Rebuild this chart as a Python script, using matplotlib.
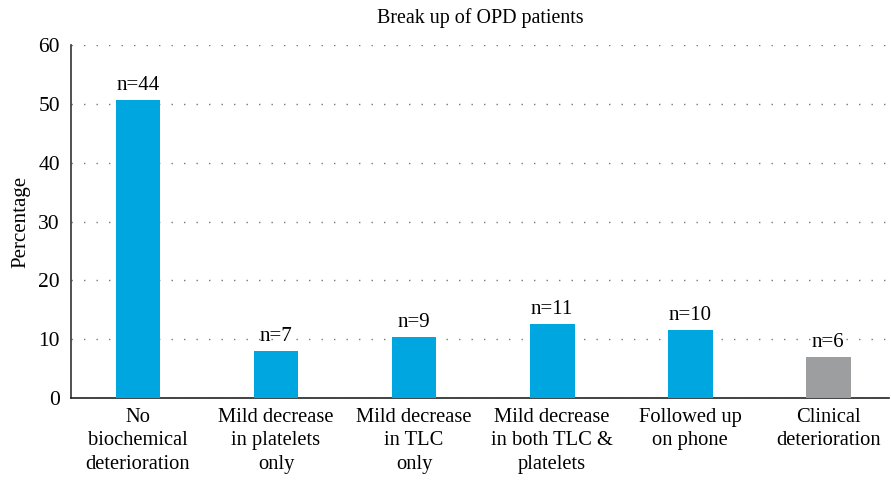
import matplotlib
matplotlib.use("Agg")
import matplotlib.pyplot as plt

categories = ["No\nbiochemical\ndeterioration", "Mild decrease\nin platelets\nonly",
              "Mild decrease\nin TLC\nonly", "Mild decrease\nin both TLC &\nplatelets",
              "Followed up\non phone", "Clinical\ndeterioration"]
counts = [44, 7, 9, 11, 10, 6]
percentages = [50.6, 8.0, 10.3, 12.6, 11.5, 6.9]
colors = ["#00A6DF"] * 5 + ["#9C9E9F"]

plt.rcParams['font.family'] = ['Liberation Serif', 'DejaVu Serif']

fig = plt.figure(figsize=(8.91, 4.8), dpi=100)
ax = fig.add_axes([0.0797, 0.171, 0.918, 0.735])

x = list(range(len(categories)))
bars = ax.bar(x, percentages, width=0.325, color=colors, zorder=3)
for xi, p, c in zip(x, percentages, counts):
    ax.text(xi, p + 0.9, f"n={c}", ha="center", va="bottom", fontsize=15)

ax.set_xlim(-0.485, 5.44)
ax.set_ylim(0, 60)
ax.set_yticks(range(0, 61, 10))
ax.set_xticks(x)
ax.set_xticklabels(categories, fontsize=14.8, linespacing=1.32)
ax.tick_params(axis="y", length=0, labelsize=15.5, pad=8)
ax.tick_params(axis="x", length=0, pad=7)
ax.yaxis.grid(True, linestyle=(0, (1, 8)), color="#777777", linewidth=1.0, zorder=0)
for s in ["top", "right"]:
    ax.spines[s].set_visible(False)
ax.spines["left"].set_color("#333333")
ax.spines["bottom"].set_color("#222222")
ax.spines["left"].set_linewidth(1.2)
ax.spines["bottom"].set_linewidth(1.2)
ax.set_ylabel("Percentage", fontsize=15, labelpad=6)
fig.text(0.539, 0.962, "Break up of OPD patients", ha="center", va="center", fontsize=14.4)

fig.savefig("out.png", dpi=100)
